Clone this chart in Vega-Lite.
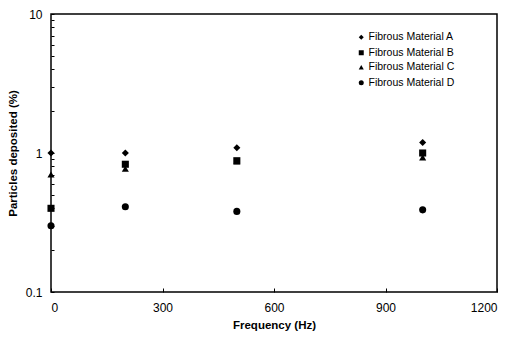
{
  "$schema": "https://vega.github.io/schema/vega-lite/v6.json",
  "width": 446,
  "height": 278,
  "autosize": {"type": "none"},
  "padding": {"left": 51, "top": 14, "right": 11, "bottom": 53},
  "background": "white",
  "config": {
    "view": {"stroke": "black", "strokeWidth": 1.5},
    "font": "Liberation Sans",
    "axis": {"grid": false, "domain": false, "tickColor": "black", "labelColor": "black", "titleColor": "black", "labelFont": "Liberation Sans", "labelFontSize": 12, "titleFont": "Liberation Sans", "titleFontSize": 11.5, "titleFontWeight": "bold"}
  },
  "data": {
    "values": [
      {"freq": 0, "val": 1.0, "series": "Fibrous Material A"},
      {"freq": 200, "val": 1.0, "series": "Fibrous Material A"},
      {"freq": 500, "val": 1.09, "series": "Fibrous Material A"},
      {"freq": 1000, "val": 1.19, "series": "Fibrous Material A"},
      {"freq": 0, "val": 0.4, "series": "Fibrous Material B"},
      {"freq": 200, "val": 0.83, "series": "Fibrous Material B"},
      {"freq": 500, "val": 0.88, "series": "Fibrous Material B"},
      {"freq": 1000, "val": 1.0, "series": "Fibrous Material B"},
      {"freq": 0, "val": 0.7, "series": "Fibrous Material C"},
      {"freq": 200, "val": 0.77, "series": "Fibrous Material C"},
      {"freq": 500, "val": 0.87, "series": "Fibrous Material C"},
      {"freq": 1000, "val": 0.93, "series": "Fibrous Material C"},
      {"freq": 0, "val": 0.3, "series": "Fibrous Material D"},
      {"freq": 200, "val": 0.41, "series": "Fibrous Material D"},
      {"freq": 500, "val": 0.38, "series": "Fibrous Material D"},
      {"freq": 1000, "val": 0.39, "series": "Fibrous Material D"}
    ]
  },
  "mark": {"type": "point", "filled": true, "opacity": 1, "size": 50, "clip": false},
  "encoding": {
    "x": {
      "field": "freq", "type": "quantitative",
      "scale": {"domain": [0, 1200], "nice": false, "zero": false},
      "axis": {"title": "Frequency (Hz)", "values": [0, 300, 600, 900, 1200], "format": "d", "tickSize": -4, "labelPadding": 14, "titlePadding": 6}
    },
    "y": {
      "field": "val", "type": "quantitative",
      "scale": {"type": "log", "domain": [0.1, 10], "nice": false},
      "axis": {"title": "Particles deposited (%)", "values": [0.1, 0.2, 0.3, 0.4, 0.5, 0.6, 0.7, 0.8, 0.9, 1, 2, 3, 4, 5, 6, 7, 8, 9, 10], "labelExpr": "datum.value == 0.1 ? '0.1' : datum.value == 1 ? '1' : datum.value == 10 ? '10' : ''", "tickSize": -3, "labelPadding": 12, "titlePadding": 7}
    },
    "shape": {
      "field": "series", "type": "nominal",
      "scale": {"domain": ["Fibrous Material A", "Fibrous Material B", "Fibrous Material C", "Fibrous Material D"], "range": ["diamond", "square", "triangle-up", "circle"]},
      "legend": {"title": null, "orient": "none", "legendX": 305, "legendY": 18, "symbolSize": 25, "symbolFillColor": "black", "symbolStrokeColor": "black", "labelFont": "Liberation Sans", "labelFontSize": 10.5, "labelColor": "black", "rowPadding": 3.5, "symbolOffset": 0, "labelOffset": 2}
    },
    "color": {"value": "black"}
  }
}
